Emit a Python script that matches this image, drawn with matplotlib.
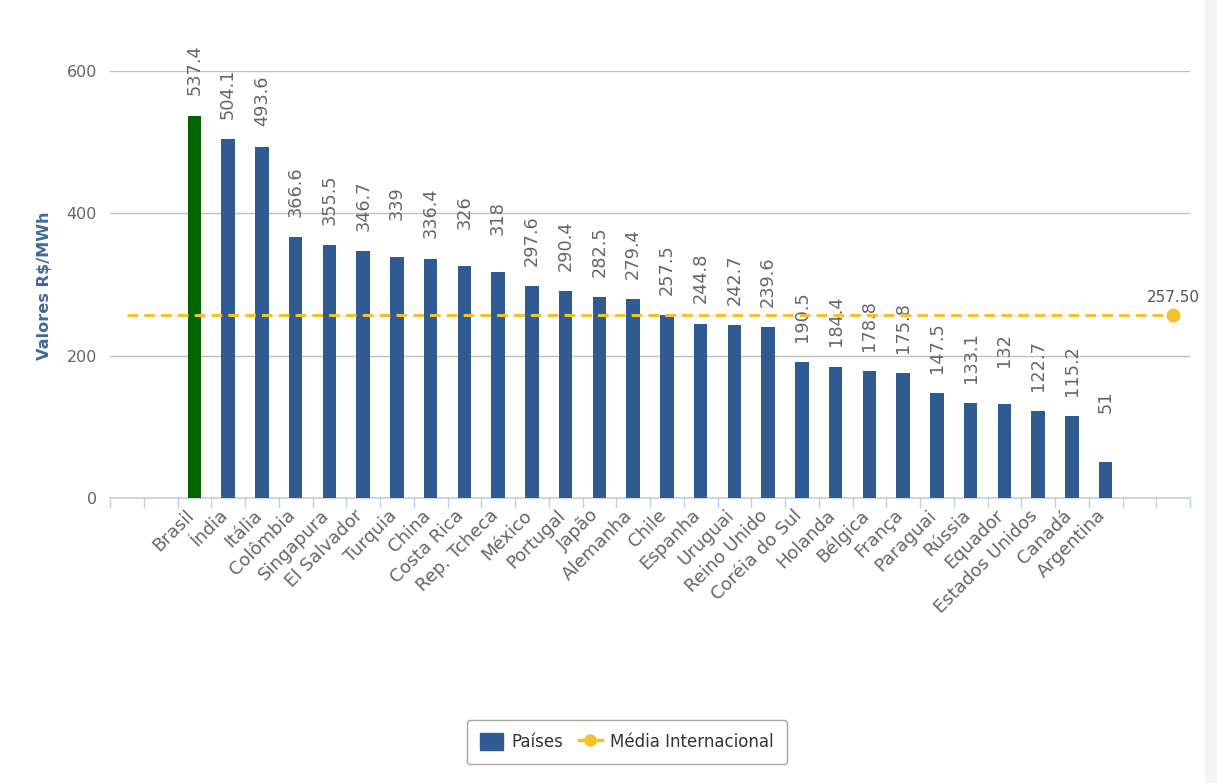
import matplotlib
matplotlib.use("Agg")
import matplotlib.pyplot as plt
from matplotlib.patches import Patch, Rectangle
from matplotlib.lines import Line2D
from matplotlib.transforms import ScaledTranslation

# Electricity price by country (R$/MWh)
countries = ["Brasil", "Índia", "Itália", "Colômbia", "Singapura", "El Salvador",
             "Turquia", "China", "Costa Rica", "Rep. Tcheca", "México", "Portugal",
             "Japão", "Alemanha", "Chile", "Espanha", "Uruguai", "Reino Unido",
             "Coréia do Sul", "Holanda", "Bélgica", "França", "Paraguai", "Rússia",
             "Equador", "Estados Unidos", "Canadá", "Argentina"]
values = [537.4, 504.1, 493.6, 366.6, 355.5, 346.7, 339, 336.4, 326, 318, 297.6,
          290.4, 282.5, 279.4, 257.5, 244.8, 242.7, 239.6, 190.5, 184.4, 178.8,
          175.8, 147.5, 133.1, 132, 122.7, 115.2, 51]
highlight = "Brasil"
average = 257.50
y_ticks = [0, 200, 400, 600]

BLUE = "#2f5b92"
GREEN = "#006400"
YELLOW = "#f0c22e"
GREY_TXT = "#666666"
AXIS_CLR = "#c0d0e0"

W, H = 1217, 783
fig = plt.figure(figsize=(W / 100, H / 100), dpi=100)
fig.patch.set_facecolor("white")
fig.patches.append(Rectangle((1205 / W, 0), 1 - 1205 / W, 1, transform=fig.transFigure,
                             facecolor="#f3f3f3", edgecolor="none", zorder=0))

ax = fig.add_axes([110 / W, 1 - 498 / H, 1080 / W, 427 / H])
ax.set_facecolor("white")

pad_cats = 2
n_total = len(countries) + 2 * pad_cats
xs = [i + pad_cats for i in range(len(countries))]
colors = [GREEN if c == highlight else BLUE for c in countries]

ax.bar(xs, values, width=0.4, color=colors, zorder=3)

for x, v in zip(xs, values):
    ax.annotate(f"{v:g}", xy=(x, v), xytext=(0, 51), textcoords="offset points",
                rotation=90, ha="center", va="top", fontsize=12.8,
                color=GREY_TXT, zorder=4)

# International average line spanning the whole category range
avg_x = [0, n_total - 1]
ax.plot(avg_x, [average] * 2, color=YELLOW, lw=2.2, ls=(0, (3.5, 2)), zorder=5)
ax.plot([avg_x[-1]], [average], marker="o", ms=9, color=YELLOW, zorder=6)
ax.annotate(f"{average:.2f}", xy=(avg_x[-1], average), xytext=(0, 7),
            textcoords="offset points", ha="center", va="bottom",
            fontsize=11, color="#555555", zorder=6)

ax.set_xlim(-0.5, n_total - 0.5)
ax.set_ylim(0, 600)

ax.set_yticks(y_ticks)
ax.set_yticklabels([str(t) for t in y_ticks])
ax.tick_params(axis="y", length=0, pad=9.4, labelsize=11.5, labelcolor=GREY_TXT)
ax.yaxis.grid(True, color="#c0c0c0", lw=1)
ax.set_axisbelow(True)

# category labels, rotated, ending at the category centre
ax.set_xticks(xs)
ax.set_xticklabels(countries, rotation=45, ha="right", va="center",
                   rotation_mode="anchor", fontsize=13, color=GREY_TXT)
ax.tick_params(axis="x", which="major", length=0, pad=10.5)
shift = ScaledTranslation(-3 / 100, 0, fig.dpi_scale_trans)
for lbl in ax.get_xticklabels():
    lbl.set_transform(lbl.get_transform() + shift)

# tick marks on category boundaries
ax.set_xticks([b - 0.5 for b in range(n_total + 1)], minor=True)
ax.tick_params(axis="x", which="minor", length=7.5, width=1, color=AXIS_CLR,
               direction="out")

for s in ("left", "right", "top"):
    ax.spines[s].set_visible(False)
ax.spines["bottom"].set_color(AXIS_CLR)
ax.spines["bottom"].set_linewidth(1.2)
ax.spines["bottom"].set_zorder(2)

fig.text(45 / W, 1 - 286 / H, "Valores R$/MWh", rotation=90, ha="center",
         va="center", fontsize=11.6, fontweight="bold", color="#41699c")

handles = [Patch(facecolor=BLUE, edgecolor=BLUE),
           Line2D([0], [0], color=YELLOW, lw=2.5, marker="o", ms=8)]
leg = fig.legend(handles, ["Países", "Média Internacional"], loc="center",
                 bbox_to_anchor=(627 / W, 1 - 742 / H), ncol=2, frameon=True,
                 fontsize=12, handlelength=1.4, handleheight=1.2,
                 columnspacing=0.9, handletextpad=0.5, borderpad=0.8,
                 fancybox=True, edgecolor="#909090", labelcolor="#333333")
leg.get_frame().set_linewidth(1)

fig.savefig("out.png", dpi=100, facecolor=fig.get_facecolor())
